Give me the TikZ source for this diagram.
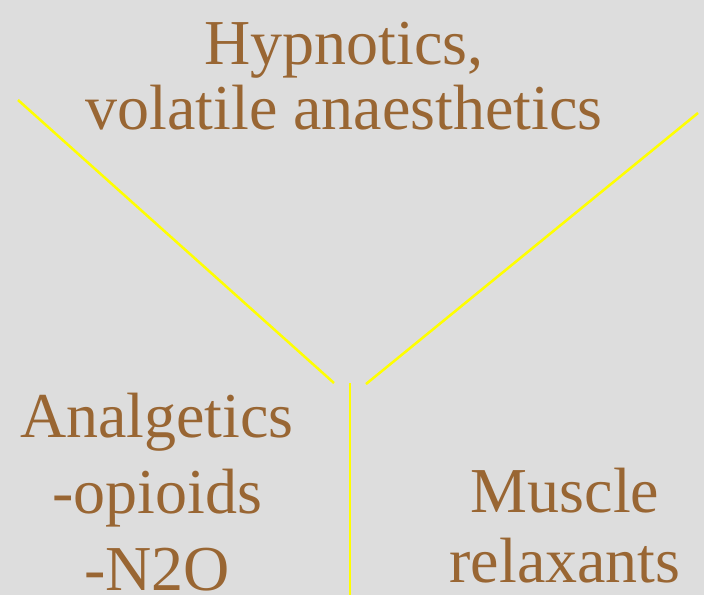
\documentclass[tikz,border=0pt]{standalone}
\usepackage{fontspec}
\setmainfont{Liberation Serif}
\definecolor{bggray}{HTML}{DDDDDD}
\definecolor{txtbrown}{HTML}{996633}
\definecolor{lineyellow}{HTML}{FFFF00}
\begin{document}
\begin{tikzpicture}[x=1pt,y=-1pt,line cap=butt,
  arm/.style={draw=lineyellow,line width=2.5pt},
  label/.style={text=txtbrown,align=center,anchor=base,inner sep=0pt}]
  \fill[bggray] (0,0) rectangle (704,595);
  \useasboundingbox (0,0) rectangle (704,595);
  \coordinate (L) at (18,100);
  \coordinate (Lend) at (334,383);
  \coordinate (R) at (698,113);
  \coordinate (Rend) at (366,384);
  \coordinate (S) at (350,383);
  \coordinate (Send) at (350,595);
  \draw[arm] (L) -- (Lend);
  \draw[arm] (R) -- (Rend);
  \draw[arm] (S) -- (Send);
  % base anchor sits on the last line
  \node[label,font=\fontsize{64}{65}\selectfont] (hyp) at (344,129) {Hypnotics,\\volatile anaesthetics};
  \node[label,font=\fontsize{64}{76.5}\selectfont] (ana) at (157,590) {Analgetics\\-opioids\\-N2O};
  \node[label,font=\fontsize{64}{70}\selectfont] (mus) at (565,582) {Muscle\\relaxants};
\end{tikzpicture}
\end{document}
